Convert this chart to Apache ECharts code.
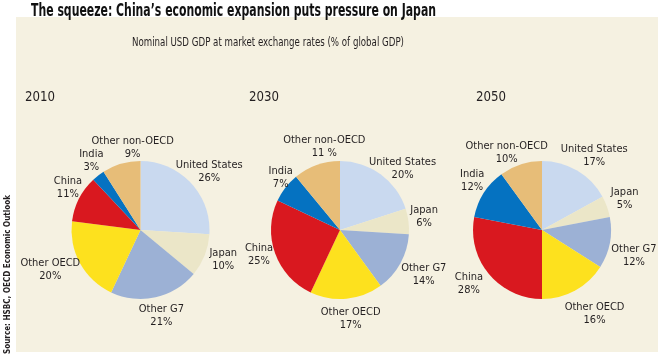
<!DOCTYPE html>
<html><head><meta charset="utf-8">
<script src="https://cdn.jsdelivr.net/npm/echarts@6/dist/echarts.min.js"></script>
<style>html,body{margin:0;padding:0;background:#fff}#c{width:664px;height:360px}</style>
</head><body><div id="c"></div>
<script>
const categories = ['United States', 'Japan', 'Other G7', 'Other OECD', 'China', 'India', 'Other non-OECD'];
const years = ['2010', '2030', '2050'];
const values2010 = [26, 10, 21, 20, 11, 3, 9];
const values2030 = [20, 6, 14, 17, 25, 7, 11];
const values2050 = [17, 5, 12, 16, 28, 12, 10];
const pctLabels2030 = ['20%', '6%', '14%', '17%', '25%', '7%', '11 %'];
const colors = ['#c9d9ef', '#ebe6c8', '#9cb1d5', '#fde11e', '#d9181f', '#0572c1', '#e7bd78'];
const titleText = 'The squeeze: China\u2019s economic expansion puts pressure on Japan';
const subtitleText = 'Nominal USD GDP at market exchange rates (% of global GDP)';
const sourceText = 'Source: HSBC, OECD Economic Outlook';

// layout: small hand-placement nudges of the labels (px), per pie, in category order
const labelNudge = [
  [[-9, 1], [2, -2], [0, 2], [0, -2], [5, -3], [3, -1], [24, 0]],
  [[0, 8], [-2, -3], [0, 3], [1, 3], [1, -4], [8, 0], [23, -2]],
  [[-2, 0], [1, -2], [-2, 10], [3, 8], [-6, -1], [2, -3], [0, 4]]
];

const FONT = '"DejaVu Sans Condensed", "Liberation Sans Narrow", sans-serif';
const chart = echarts.init(document.getElementById('c'), null, {renderer: 'canvas'});

const ctx = document.createElement('canvas').getContext('2d');
function measure(text, size, weight) {
  ctx.font = (weight || 'normal') + ' ' + size + 'px ' + FONT;
  return ctx.measureText(text).width;
}

const centers = [[140.5, 230], [340, 230], [542, 230]];
const R = 69;
const allValues = [values2010, values2030, values2050];

function makeSeries(idx) {
  const vals = allValues[idx];
  const total = vals.reduce((a, b) => a + b, 0);
  const mids = [];
  let acc = 0;
  vals.forEach(v => { mids.push((acc + v / 2) / total * Math.PI * 2); acc += v; });
  const c = centers[idx];
  return {
    type: 'pie',
    center: c,
    radius: [0, R],
    startAngle: 90,
    clockwise: true,
    animation: false,
    silent: true,
    itemStyle: {borderWidth: 0},
    label: {
      show: true,
      position: 'outside',
      bleedMargin: 0,
      fontFamily: FONT,
      fontSize: 11,
      lineHeight: 13,
      color: '#231f20',
      align: 'center',
      formatter: p => p.name + '\n' + (idx === 1 ? pctLabels2030[p.dataIndex] : p.value + '%')
    },
    labelLine: {show: false, length: 4, length2: 0},
    labelLayout: function (p) {
      const a = mids[p.dataIndex];
      const dx = Math.sin(a), dy = -Math.cos(a);
      const w = p.labelRect.width, h = p.labelRect.height;
      const d = R + 4;
      const n = labelNudge[idx][p.dataIndex];
      return {
        x: c[0] + dx * d + dx * w / 2 + n[0],
        y: c[1] + dy * d + dy * h / 2 + n[1],
        align: 'center',
        verticalAlign: 'middle'
      };
    },
    data: categories.map((n, i) => ({name: n, value: vals[i], itemStyle: {color: colors[i]}}))
  };
}

const yearX = [25, 249, 476];
const titleScale = 405 / measure(titleText, 18, 'bold');
const subScale = 272 / measure(subtitleText, 13);
const srcScale = 159 / measure(sourceText, 9.5, 'bold');
const yearScale = 30 / measure('2010', 14);

chart.setOption({
  backgroundColor: '#ffffff',
  graphic: [
    {type: 'rect', silent: true, z: -10, shape: {x: 16, y: 17, width: 642, height: 335}, style: {fill: '#f5f1e1'}},
    {type: 'text', x: 31, y: 11, scaleX: titleScale, style: {text: titleText, fontFamily: FONT, fontWeight: 'bold', fontSize: 18, fill: '#111', verticalAlign: 'middle'}},
    {type: 'text', x: 132, y: 43, scaleX: subScale, style: {text: subtitleText, fontFamily: FONT, fontSize: 13, fill: '#231f20', verticalAlign: 'middle'}},
    ...years.map((y, i) => ({type: 'text', x: yearX[i], y: 97, scaleX: yearScale, style: {text: y, fontFamily: FONT, fontSize: 14, fill: '#231f20', verticalAlign: 'middle'}})),
    {type: 'text', x: 8, y: 354, rotation: Math.PI / 2, scaleX: srcScale, style: {text: sourceText, fontFamily: FONT, fontWeight: 'bold', fontSize: 9.5, fill: '#231f20', verticalAlign: 'middle'}}
  ],
  series: [makeSeries(0), makeSeries(1), makeSeries(2)]
});
</script></body></html>
